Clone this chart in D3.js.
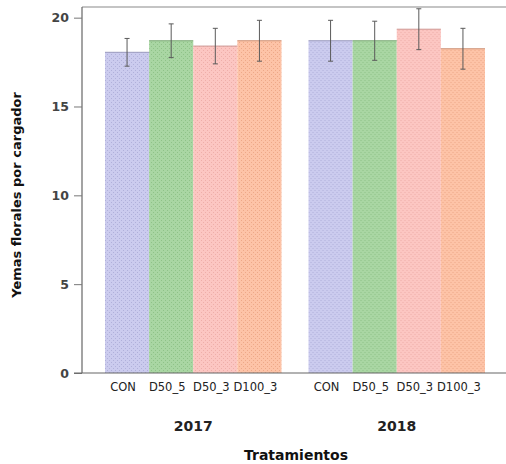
<!DOCTYPE html>
<html>
<head>
<meta charset="utf-8">
<script src="https://cdn.jsdelivr.net/npm/d3@7"></script>
<style>
  html, body { margin: 0; padding: 0; background: #fff; }
  svg { display: block; }
  text { font-family: "DejaVu Sans", sans-serif; }
</style>
</head>
<body>
<svg id="chart" width="506" height="464"></svg>
<script>
// Yemas florales por cargador, por año y tratamiento
const years = ["2017", "2018"];
const treatments = ["CON", "D50_5", "D50_3", "D100_3"];
const means2017 = [18.05, 18.7, 18.4, 18.7];
const means2018 = [18.7, 18.7, 19.35, 18.25];
const err2017 = [0.78, 0.95, 1.0, 1.15];
const err2018 = [1.15, 1.1, 1.15, 1.15];
const yTicks = [0, 5, 10, 15, 20];
const fills = ["#cbcbee", "#a9d6a3", "#fcc6c2", "#fdc3a7"];
const dots = ["#b0b0da", "#8fc288", "#eeaea9", "#eda888"];

const rows = years.map((yr, i) => ({
  year: yr,
  means: i === 0 ? means2017 : means2018,
  errs: i === 0 ? err2017 : err2018
}));

const svg = d3.select("#chart");
const plotLeft = 82, plotRight = 508, plotTop = 7, plotBottom = 373;

const x0 = d3.scaleBand().domain(years).range([plotLeft, plotRight])
  .paddingInner(0.1327).paddingOuter(0.113);
const x1 = d3.scaleBand().domain(treatments).range([0, x0.bandwidth()]).padding(0);
const y = d3.scaleLinear().domain([0, 20.6]).range([plotBottom, plotTop]);
const color = d3.scaleOrdinal().domain(treatments).range(fills);
const dotColor = d3.scaleOrdinal().domain(treatments).range(dots);

// dotted texture for each treatment fill
const defs = svg.append("defs");
treatments.forEach((t, i) => {
  const p = defs.append("pattern")
    .attr("id", "pat" + i)
    .attr("patternUnits", "userSpaceOnUse")
    .attr("width", 4).attr("height", 4);
  p.append("rect").attr("width", 4).attr("height", 4).attr("fill", color(t));
  p.append("rect").attr("x", 0).attr("y", 0).attr("width", 1).attr("height", 1)
    .attr("fill", dotColor(t));
  p.append("rect").attr("x", 2).attr("y", 2).attr("width", 1).attr("height", 1)
    .attr("fill", dotColor(t));
});

// frame top border
svg.append("line")
  .attr("x1", plotLeft).attr("x2", 506).attr("y1", plotTop).attr("y2", plotTop)
  .attr("stroke", "#8a8a8a").attr("stroke-width", 1.2);

// bars
const groups = svg.append("g").selectAll("g").data(rows).join("g")
  .attr("transform", d => `translate(${x0(d.year)},0)`);

groups.selectAll("rect.bar")
  .data(d => treatments.map((t, i) => ({ t, i, v: d.means[i], e: d.errs[i] })))
  .join("rect")
  .attr("class", "bar")
  .attr("x", d => x1(d.t))
  .attr("y", d => y(d.v))
  .attr("width", x1.bandwidth())
  .attr("height", d => y(0) - y(d.v))
  .attr("fill", d => `url(#pat${d.i})`);

// bar top edges
groups.selectAll("line.topedge")
  .data(d => treatments.map((t, i) => ({ t, i, v: d.means[i] })))
  .join("line")
  .attr("class", "topedge")
  .attr("x1", d => x1(d.t)).attr("x2", d => x1(d.t) + x1.bandwidth())
  .attr("y1", d => y(d.v)).attr("y2", d => y(d.v))
  .attr("stroke", d => d3.color(dotColor(d.t)).darker(0.4))
  .attr("stroke-width", 1);

// error bars
const eb = groups.selectAll("g.err")
  .data(d => treatments.map((t, i) => ({ t, v: d.means[i], e: d.errs[i] })))
  .join("g").attr("class", "err")
  .attr("stroke", "#5a5a5a").attr("stroke-width", 1);
eb.append("line")
  .attr("x1", d => x1(d.t) + x1.bandwidth() / 2)
  .attr("x2", d => x1(d.t) + x1.bandwidth() / 2)
  .attr("y1", d => y(d.v + d.e)).attr("y2", d => y(d.v - d.e));
eb.append("line")
  .attr("x1", d => x1(d.t) + x1.bandwidth() / 2 - 2.5)
  .attr("x2", d => x1(d.t) + x1.bandwidth() / 2 + 2.5)
  .attr("y1", d => y(d.v + d.e)).attr("y2", d => y(d.v + d.e));
eb.append("line")
  .attr("x1", d => x1(d.t) + x1.bandwidth() / 2 - 2.5)
  .attr("x2", d => x1(d.t) + x1.bandwidth() / 2 + 2.5)
  .attr("y1", d => y(d.v - d.e)).attr("y2", d => y(d.v - d.e));

// y axis
const yAxis = svg.append("g")
  .attr("transform", `translate(${plotLeft},0)`)
  .call(d3.axisLeft(y).tickValues(yTicks).tickSize(8).tickPadding(5));
yAxis.select(".domain").attr("stroke", "#666").attr("stroke-width", 1.2)
  .attr("d", `M0,${plotTop}V${plotBottom}`);
yAxis.selectAll(".tick line").attr("stroke", "#777");
yAxis.selectAll(".tick text")
  .attr("font-size", 12.5).attr("font-weight", "bold").attr("fill", "#444")
  .attr("font-family", "DejaVu Sans, sans-serif");

// baseline
svg.append("line")
  .attr("x1", plotLeft - 8).attr("x2", 506).attr("y1", plotBottom).attr("y2", plotBottom)
  .attr("stroke", "#666").attr("stroke-width", 1.2);

// treatment labels under each bar
groups.selectAll("text.cat")
  .data(treatments)
  .join("text")
  .attr("class", "cat")
  .attr("x", t => x1(t) + x1.bandwidth() / 2 - 4)
  .attr("y", 391)
  .attr("text-anchor", "middle")
  .attr("font-size", 11.5)
  .attr("fill", "#222")
  .text(t => t);

// year labels
svg.append("g").selectAll("text").data(years).join("text")
  .attr("x", d => x0(d) + x0.bandwidth() / 2)
  .attr("y", 431)
  .attr("text-anchor", "middle")
  .attr("font-size", 14)
  .attr("font-weight", "bold")
  .attr("fill", "#222")
  .text(d => d);

// axis titles
svg.append("text")
  .attr("x", 296)
  .attr("y", 460)
  .attr("text-anchor", "middle")
  .attr("font-size", 14)
  .attr("font-weight", "bold")
  .attr("fill", "#111")
  .text("Tratamientos");

svg.append("text")
  .attr("transform", "translate(21,195) rotate(-90)")
  .attr("text-anchor", "middle")
  .attr("font-size", 13)
  .attr("font-weight", "bold")
  .attr("fill", "#111")
  .text("Yemas florales por cargador");
</script>
</body>
</html>
